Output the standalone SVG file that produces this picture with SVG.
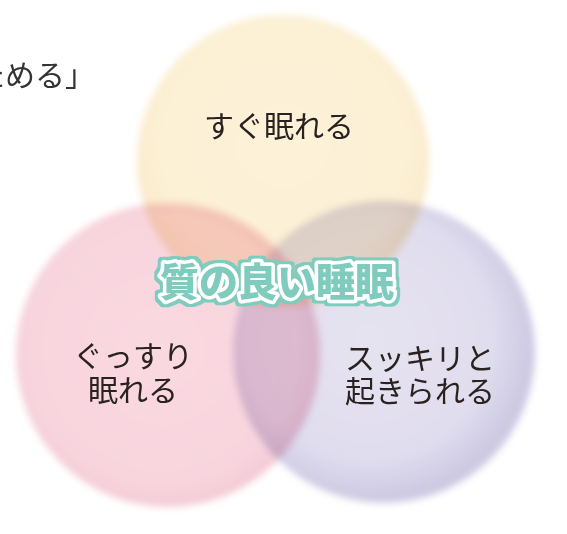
<svg xmlns="http://www.w3.org/2000/svg" width="567" height="534" viewBox="0 0 567 534">
<defs>
<style>
.lbl{font-family:"Noto Sans CJK JP","Noto Sans",sans-serif;font-size:30px;fill:#2a2220;text-anchor:middle;}
.title{font-family:"Noto Sans CJK JP","Noto Sans",sans-serif;font-size:39px;font-weight:900;fill:#7fcbbd;stroke:#ffffff;stroke-width:7;stroke-linejoin:round;paint-order:stroke;text-anchor:middle;}
.circ{mix-blend-mode:multiply;}
</style>
<filter id="soft" x="-20%" y="-20%" width="140%" height="140%">
<feGaussianBlur stdDeviation="3.5"/>
</filter>
<filter id="outline" x="-10%" y="-30%" width="120%" height="160%">
<feMorphology in="SourceAlpha" operator="dilate" radius="2.5" result="d"/>
<feFlood flood-color="#7fcbbd"/>
<feComposite in2="d" operator="in" result="o"/>
<feMerge><feMergeNode in="o"/><feMergeNode in="SourceGraphic"/></feMerge>
</filter>
<radialGradient id="gy" cx="50%" cy="45%" r="52%">
<stop offset="0" stop-color="#fdf2d9"/>
<stop offset="0.85" stop-color="#fcf0d4"/>
<stop offset="1" stop-color="#f9e9ca"/>
</radialGradient>
<radialGradient id="gp" cx="48%" cy="48%" r="52%">
<stop offset="0" stop-color="#fad9e1"/>
<stop offset="0.85" stop-color="#f8d5de"/>
<stop offset="1" stop-color="#f3cbd6"/>
</radialGradient>
<radialGradient id="gv" cx="45%" cy="45%" r="54%">
<stop offset="0" stop-color="#e6e3f1"/>
<stop offset="0.75" stop-color="#e0ddee"/>
<stop offset="1" stop-color="#cdc9e2"/>
</radialGradient>
</defs>
<rect width="567" height="534" fill="#ffffff"/>
<g id="intro">
<text x="-25" y="86" class="lbl" style="text-anchor:start;fill:#333333">ためる」</text>
</g>
<g id="node-sleep-fast" class="circ">
<circle cx="283" cy="161" r="146" fill="url(#gy)" filter="url(#soft)"/>
</g>
<g id="node-sleep-deep" class="circ">
<circle cx="168" cy="355" r="152" fill="url(#gp)" filter="url(#soft)"/>
</g>
<g id="node-wake" class="circ">
<circle cx="384" cy="352" r="151" fill="url(#gv)" filter="url(#soft)"/>
</g>
<g id="labels">
<text x="279" y="137" class="lbl">すぐ眠れる</text>
<text class="lbl"><tspan x="133" y="367">ぐっすり</tspan><tspan x="133" y="401">眠れる</tspan></text>
<text class="lbl"><tspan x="420" y="369">スッキリと</tspan><tspan x="420" y="402">起きられる</tspan></text>
</g>
<g id="node-center">
<text x="277" y="296" class="title" filter="url(#outline)">質の良い睡眠</text>
</g>
</svg>
